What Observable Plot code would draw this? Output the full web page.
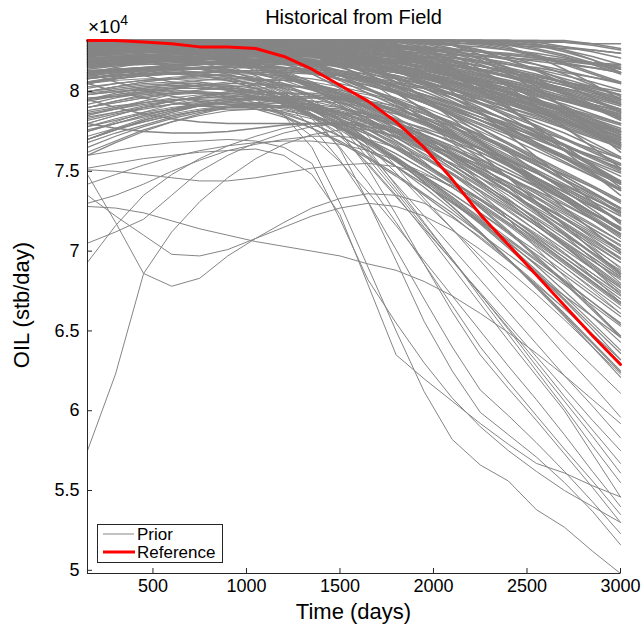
<!DOCTYPE html>
<html><head><meta charset="utf-8">
<script src="https://cdn.jsdelivr.net/npm/d3@7"></script>
<script src="https://cdn.jsdelivr.net/npm/@observablehq/plot@0.6"></script>
<style>
body{margin:0;background:#fff;font-family:"Liberation Sans",Arial,Helvetica,sans-serif;}
#wrap{position:relative;width:643px;height:632px;overflow:hidden;}
#wrap svg{position:absolute;left:0;top:0;}
.t{position:absolute;white-space:nowrap;color:#000;line-height:1;}
</style></head><body>
<div id="wrap"></div>
<script>
// time steps (days)
const time = [150,300,450,600,750,900,1050,1200,1350,1500,1650,1800,1950,2100,2250,2400,2550,2700,2850,3000];
// values in hundreds of stb/day
const reference = [832,832,831,830,828,828,827,822,814,804,794,781,765,745,723,704,685,666,647,629];

const priorPlateau = [
[832,832,832,832,832,832,832,832,832,832,832,832,832,832,832,832,831,831,830,830],
[832,832,832,832,832,832,832,832,832,832,832,832,832,832,831,830,829,828,826,824],
[832,832,832,832,832,832,832,832,832,832,832,831,830,829,828,826,824,821,818,815],
[832,832,832,832,832,832,832,832,832,831,830,829,827,825,823,820,817,813,809,805],
[832,832,832,832,832,832,832,831,830,829,827,825,822,819,816,812,808,804,799,794],
[832,832,832,832,832,831,830,829,827,825,822,819,816,812,808,804,799,794,789,784],
[832,832,832,832,831,830,828,826,823,820,817,813,809,805,800,795,790,784,778,772],
[832,832,832,832,832,832,832,832,831,829,826,822,817,812,806,800,794,787,780,773],
[832,832,832,832,832,832,832,832,832,832,831,829,826,822,817,811,805,798,790,782],
[832,832,832,832,832,832,832,832,832,832,832,832,831,829,826,822,817,811,804,797],
[832,832,832,832,832,832,832,832,832,832,832,832,832,832,832,831,829,826,822,817],
[832,832,832,832,832,832,832,832,832,832,832,832,832,831,829,826,822,817,811,805],
[832,832,832,832,832,832,832,832,832,831,829,826,822,817,811,805,798,791,783,775],
[832,832,832,832,832,832,831,829,826,822,818,813,807,801,795,788,781,774,766,758],
[832,832,832,832,832,831,829,826,822,817,812,806,800,793,786,779,771,763,755,747],
[832,832,832,831,829,826,823,819,815,810,805,799,793,787,780,773,766,758,750,742],
[832,832,832,832,832,832,832,832,832,831,828,824,818,811,803,795,786,777,768,759],
[832,832,832,832,832,832,832,832,830,826,820,813,805,796,787,778,768,758,748,738],
[832,832,832,832,832,832,832,832,832,832,832,830,826,820,813,805,796,786,776,766],
[832,832,832,832,832,832,832,832,832,832,832,832,832,830,826,820,813,805,796,787],
[832,832,832,832,832,832,831,828,823,816,808,799,789,779,768,757,746,735,724,713],
[832,832,832,832,832,832,832,832,832,832,830,826,819,810,800,789,778,766,754,742],
[832,832,832,832,832,831,828,823,817,810,802,793,784,774,764,754,743,732,721,710],
[832,832,832,832,832,832,832,832,832,832,832,832,831,827,820,811,801,790,779,767],
[832,832,832,832,832,832,832,832,832,832,832,832,832,832,831,828,822,814,805,795],
[832,832,832,832,832,832,832,832,832,832,831,827,820,811,801,790,778,766,753,740],
[832,832,832,832,832,832,832,832,829,823,815,806,796,785,774,762,750,738,726,714],
[832,832,832,832,832,832,832,832,832,832,832,832,829,823,814,803,791,778,765,752],
[832,832,832,832,832,832,832,832,832,832,832,832,832,832,832,832,830,826,820,812],
[832,832,832,832,832,832,832,832,832,832,832,832,832,832,832,832,832,832,830,827],
[832,832,832,832,832,832,832,832,831,826,818,808,796,783,769,755,741,727,713,699],
[832,832,832,832,832,832,832,832,832,832,829,822,812,800,787,773,759,745,731,717],
[832,832,832,832,832,832,832,831,827,820,811,800,788,775,761,746,731,716,701,686],
[832,832,832,832,832,832,832,832,832,832,832,830,824,815,804,791,777,763,749,735],
[832,832,832,832,832,832,832,832,832,832,832,832,832,829,823,814,803,790,776,762],
[832,832,832,832,832,832,832,832,832,832,832,832,832,832,832,831,829,825,820,814],
[832,832,832,832,832,832,832,832,832,832,832,832,832,832,832,832,832,831,829,826],
[832,832,832,832,832,832,832,832,832,832,832,832,832,832,831,829,826,822,817,811],
[832,832,832,832,832,832,832,832,832,832,832,832,831,829,825,820,814,807,800,792],
[832,832,832,832,832,832,832,832,832,832,831,829,825,819,812,804,795,786,776,766],
[832,832,832,832,832,832,832,832,831,828,823,817,810,802,793,784,774,764,754,744],
[832,832,832,832,832,832,831,828,824,818,811,803,795,786,777,767,757,747,737,727],
[832,832,832,832,831,829,825,820,814,807,799,791,782,773,764,754,744,734,724,714],
[832,832,832,832,832,832,832,832,832,832,832,831,828,824,819,813,806,799,791,783],
[832,832,832,832,832,832,832,832,832,832,832,832,832,832,830,827,823,818,812,806],
[832,832,832,832,832,832,832,832,832,832,832,832,832,832,832,832,831,828,825,821],
[832,832,832,832,832,832,832,832,832,831,829,825,820,814,807,799,791,782,773,764],
[832,832,832,832,832,832,832,832,832,832,832,832,830,826,821,815,808,800,792,783],
[832,832,832,832,832,832,832,831,828,824,819,813,806,798,790,781,772,763,753,743],
[832,832,832,832,832,832,832,832,832,832,832,832,832,832,832,830,827,823,818,812]
];

const priorUpper = [
[831,831,830,830,829,829,828,828,827,827,826,825,824,823,822,821,820,819,818,817],
[829,829,829,828,828,827,826,825,823,821,819,816,813,810,806,802,798,794,790,786],
[827,828,828,828,828,827,826,824,822,819,816,812,808,803,798,793,787,781,775,769],
[825,826,826,826,825,824,822,819,816,812,808,803,798,792,786,780,773,766,759,752],
[823,824,825,825,825,825,824,823,822,820,818,815,812,808,804,799,794,789,783,777],
[821,822,822,822,821,820,818,815,812,808,804,799,794,788,782,776,770,763,756,749],
[819,820,821,822,822,822,822,821,820,818,816,813,810,806,802,797,792,787,781,775],
[817,818,819,819,819,818,816,814,811,808,804,800,795,790,784,778,772,766,760,754],
[814,816,818,819,820,820,820,819,818,816,813,810,806,802,797,792,786,780,774,768],
[811,813,815,816,817,817,816,815,813,810,807,803,798,793,788,782,776,770,764,758],
[830,830,830,830,830,830,830,830,829,829,828,827,826,825,823,821,819,817,815,812],
[828,828,828,828,828,828,828,828,828,827,826,824,822,819,816,812,808,804,800,795],
[826,826,827,827,827,827,827,827,826,825,823,821,818,815,811,807,803,799,794,789],
[824,825,825,826,826,826,826,826,825,824,822,820,817,814,810,806,802,797,792,787],
[822,823,824,825,825,826,826,826,826,825,824,822,820,817,814,810,806,802,797,792],
[831,831,831,831,831,830,830,829,828,826,824,821,818,814,810,806,801,796,791,786],
[829,830,830,830,830,830,830,830,830,830,830,829,828,827,825,823,821,818,815,812],
[827,827,827,827,827,827,826,825,823,820,817,813,809,804,799,794,789,783,777,771],
[825,826,827,828,828,828,828,828,827,826,824,822,819,816,813,809,805,801,796,791],
[820,821,822,823,824,825,825,825,825,825,824,823,821,819,816,813,810,806,802,798],
[818,819,820,821,822,823,824,824,824,823,821,818,815,811,807,802,797,792,786,780],
[816,817,818,819,820,821,822,822,822,822,821,820,818,816,813,810,806,802,798,793],
[813,814,815,816,817,818,818,818,818,817,816,814,811,808,804,800,795,790,785,780],
[810,812,814,816,818,819,820,821,821,821,820,818,816,813,809,805,800,795,790,784],
[808,810,812,814,815,816,817,817,817,816,814,812,809,805,801,796,791,786,780,774],
[831,831,831,831,831,831,831,831,831,831,830,829,827,824,821,817,813,808,803,798],
[830,830,830,830,830,830,829,828,826,823,820,816,811,806,800,794,788,781,774,767],
[828,829,829,829,829,829,829,829,828,827,825,823,820,817,813,809,804,799,794,788],
[826,827,828,828,828,828,827,826,824,821,818,814,810,805,800,794,788,782,775,768],
[823,824,825,826,826,826,826,825,824,822,820,817,813,809,804,799,793,787,781,775],
[831,831,831,831,831,831,831,831,831,831,831,831,831,830,830,829,828,827,826,824],
[829,829,829,829,829,829,829,829,829,829,829,828,827,826,825,823,821,819,817,814],
[827,827,828,828,828,828,828,828,828,828,828,828,827,826,825,824,822,820,818,816],
[824,824,825,825,825,825,825,825,825,825,824,823,822,821,819,817,815,812,809,806],
[821,821,822,822,822,822,822,822,822,821,820,819,818,816,814,812,809,806,803,800],
[819,819,820,820,820,820,820,820,819,818,817,815,813,810,807,804,800,796,792,788],
[816,817,817,818,818,818,818,818,817,816,814,812,809,806,802,798,794,789,784,779],
[812,813,814,815,815,815,815,815,814,813,811,808,805,801,797,792,787,782,776,770],
[809,810,811,812,812,812,812,812,811,810,808,805,802,798,793,788,783,777,771,765],
[806,808,810,811,812,813,813,813,812,811,809,806,803,799,795,790,785,779,773,767]
];

const priorShoulder = [
[828,829,830,830,830,830,829,828,826,823,820,816,812,807,802,796,790,784,778,771],
[825,826,827,828,828,828,827,825,822,818,813,808,802,796,789,782,775,767,759,751],
[822,824,826,827,828,828,828,827,826,824,821,818,814,810,805,800,794,788,782,776],
[820,822,823,824,824,823,822,820,817,813,808,802,796,789,782,774,766,758,750,742],
[818,820,822,823,824,824,824,823,822,820,818,815,811,807,802,797,791,785,779,773],
[815,817,819,820,821,821,820,818,815,811,806,800,793,786,779,771,763,755,747,739],
[812,815,818,820,822,823,823,822,820,817,813,808,802,796,789,782,774,766,758,750],
[810,812,813,814,814,813,811,808,804,799,793,787,780,773,765,757,749,741,733,725],
[808,811,814,816,818,819,820,820,819,817,814,810,805,799,793,786,779,771,763,755],
[805,808,811,813,815,816,816,815,813,810,806,801,795,789,782,775,767,759,751,743],
[826,827,828,828,828,827,825,822,818,813,807,800,793,785,777,768,759,750,741,732],
[830,831,831,831,831,830,829,827,824,820,815,809,802,794,786,777,768,759,749,739],
[823,825,827,828,829,829,829,829,828,827,825,822,818,813,807,801,794,787,779,771],
[816,818,820,822,823,824,825,825,825,824,822,819,815,810,804,797,790,782,774,766],
[813,814,815,815,815,814,812,809,805,800,794,787,780,772,764,755,746,737,728,719],
[828,829,829,829,828,826,823,819,814,808,801,794,786,778,769,760,751,742,733,724],
[819,821,823,824,825,825,824,822,819,815,810,804,797,790,782,774,765,756,747,738],
[806,809,812,815,817,818,819,819,818,816,813,809,804,798,792,785,778,770,762,754],
[811,813,815,817,818,819,819,818,816,813,809,804,798,791,784,776,768,760,752,744],
[824,826,828,829,830,830,830,830,830,829,828,826,823,820,816,812,807,802,797,792],
[817,819,821,823,825,826,827,828,828,828,827,826,824,821,818,814,810,805,800,795],
[821,822,823,823,823,822,820,817,813,808,802,795,788,780,772,763,754,745,736,727],
[809,810,811,811,811,810,808,805,801,796,790,783,776,768,760,751,742,733,724,715],
[827,828,829,830,830,830,830,829,828,826,823,819,815,810,805,799,793,787,781,775],
[831,831,831,831,830,829,828,827,825,823,821,818,815,812,808,804,800,795,790,785],
[829,830,830,830,830,830,830,830,829,828,826,824,821,818,814,810,805,800,795,789],
[826,828,829,830,830,830,830,830,830,830,829,828,826,824,821,818,814,810,806,801],
[830,831,831,831,831,831,831,831,831,830,829,827,825,822,819,815,811,806,801,796],
[824,825,826,826,826,825,824,822,820,817,814,810,806,801,796,790,784,778,772,766],
[818,819,820,821,821,821,821,820,819,817,815,812,808,804,799,794,788,782,776,770],
[805,800,796,793,791,790,790,790,789,787,784,780,775,769,762,754,746,737,728,719],
[812,806,801,797,794,792,791,791,790,789,786,782,777,771,764,757,749,740,731,722],
[795,790,786,783,781,780,780,780,780,779,776,772,767,761,754,746,738,729,720,711],
[780,777,775,774,774,775,777,779,780,780,778,775,770,764,757,749,741,732,723,714],
[820,815,810,806,803,801,800,799,798,796,793,789,784,778,771,764,756,748,740,731]
];

const priorRising = [
[800,803,806,808,810,811,811,810,808,805,801,796,790,783,775,767,758,749,740,730],
[795,799,802,805,807,808,808,807,805,801,796,790,783,775,767,758,749,739,729,719],
[790,794,798,801,804,806,807,807,806,803,799,794,788,781,773,764,755,745,735,724],
[785,790,794,798,801,803,804,804,802,799,794,788,781,773,764,755,745,735,724,713],
[780,785,790,794,797,800,802,803,803,801,798,793,787,780,772,763,754,744,734,723],
[775,780,785,789,793,796,798,799,799,797,794,789,783,776,768,759,750,740,730,719],
[770,776,782,787,791,794,796,797,797,795,791,786,779,771,762,753,743,733,722,711],
[765,772,778,783,787,790,792,793,792,790,786,780,773,765,756,746,736,725,714,703],
[798,800,801,802,802,801,799,796,792,787,781,774,766,758,749,740,730,720,710,700],
[788,791,793,795,796,796,795,793,790,786,781,775,768,760,752,743,734,724,714,704],
[778,782,786,789,791,792,792,791,789,785,780,774,767,759,750,741,731,721,711,701],
[760,768,775,781,786,790,793,795,796,796,794,791,786,780,773,765,756,747,737,727],
[782,786,789,792,794,795,795,794,791,787,782,776,769,761,752,743,733,723,712,701],
[792,796,799,802,804,805,805,804,802,798,793,787,780,772,764,755,745,735,724,713],
[803,805,807,808,808,807,805,802,798,793,787,780,772,764,755,746,736,726,716,706],
[772,777,781,785,788,790,791,791,790,788,784,779,773,766,758,749,740,730,720,709],
[768,774,779,784,788,791,793,794,794,793,790,786,781,774,766,758,749,739,729,718],
[786,789,792,794,796,797,797,796,794,790,785,779,772,764,756,747,737,727,717,706],
[796,797,798,799,799,798,796,793,789,784,778,771,763,755,746,737,727,717,706,695],
[776,780,784,788,791,793,795,796,796,795,792,788,783,777,770,762,754,745,736,726]
];

const priorEarlyDecline = [
[815,818,820,821,821,820,817,812,806,799,791,782,772,762,751,740,729,717,705,693],
[808,811,813,814,814,812,809,804,798,791,783,774,764,754,743,732,720,708,696,684],
[800,803,805,806,806,804,800,795,789,782,774,765,755,744,733,722,710,698,686,674],
[790,794,797,799,800,799,797,793,788,781,773,764,754,743,732,720,708,696,684,672],
[783,787,791,794,796,797,796,793,789,783,776,768,758,748,737,725,713,701,689,677],
[825,826,826,825,823,820,815,809,802,794,785,775,765,754,743,732,720,708,696,684],
[818,820,822,822,821,819,815,810,803,795,786,776,765,754,742,730,718,705,692,679],
[805,808,810,811,810,808,804,798,791,783,774,764,753,742,730,718,706,693,680,667],
[795,798,800,801,800,797,793,787,780,772,763,753,742,731,719,707,694,681,668,655],
[778,783,787,790,792,793,792,789,784,778,770,761,751,740,729,717,705,692,679,666],
[770,776,781,785,788,789,789,787,783,777,770,761,751,740,728,716,703,690,677,664],
[812,814,815,815,814,811,806,800,793,785,776,766,755,744,732,720,707,694,681,668],
[799,801,803,804,803,801,797,792,785,777,768,758,747,736,724,711,698,685,672,659],
[787,790,793,795,795,794,791,786,780,772,763,753,742,730,718,705,692,679,666,653],
[830,830,830,830,829,827,823,818,811,803,794,784,773,761,749,737,724,711,698,685],
[822,824,825,825,824,821,817,811,804,796,787,777,766,754,742,729,716,703,690,677],
[762,769,776,781,785,788,789,788,785,780,773,765,755,744,732,720,707,694,681,668],
[784,787,790,792,793,792,789,784,777,769,759,748,736,724,711,698,685,672,659,646],
[832,832,832,832,831,829,825,819,811,802,792,781,769,757,744,731,717,703,689,675],
[832,832,832,832,832,832,832,830,825,817,807,795,782,768,754,740,725,710,695,680],
[800,802,804,805,805,803,799,793,786,777,767,756,744,731,717,702,686,669,651,632],
[785,789,793,796,798,798,796,792,786,778,768,757,745,732,718,703,687,670,653,636],
[815,816,817,817,816,813,808,801,792,782,770,757,743,728,712,695,677,659,640,621],
[775,780,785,789,792,793,793,790,785,778,769,758,746,733,719,704,688,672,655,638],
[808,810,811,811,810,807,802,795,786,776,765,753,740,726,711,695,678,661,643,625],
[822,823,823,822,820,816,810,802,793,782,770,757,743,728,712,695,678,660,642,624],
[832,832,832,831,829,825,819,811,802,792,781,769,756,742,727,712,696,680,663,646],
[795,797,799,800,799,796,791,785,777,768,758,747,735,722,708,694,679,664,648,632],
[770,777,783,788,792,795,796,795,791,785,777,767,755,742,728,713,697,681,664,647],
[812,813,814,814,812,809,804,797,789,780,770,759,747,734,720,706,691,675,659,643],
[826,826,826,825,823,820,816,811,805,798,790,781,772,762,752,742,731,720,709,698],
[818,819,820,820,819,817,814,809,803,796,788,779,770,760,750,740,729,718,707,696],
[810,812,814,815,815,814,811,807,801,794,786,777,768,758,748,737,726,715,704,693],
[802,805,807,809,810,810,808,804,798,791,783,774,764,754,743,732,721,710,699,688],
[794,797,800,802,804,804,802,798,793,786,778,769,759,749,738,727,716,705,694,683],
[828,828,828,827,826,823,819,813,806,798,789,779,768,757,746,735,723,711,699,687],
[820,821,822,822,821,819,815,810,804,797,789,780,770,760,749,738,726,714,702,690],
[832,832,832,832,832,832,831,828,823,816,808,799,789,778,767,756,744,732,720,708],
[832,832,832,832,832,831,829,825,819,811,802,792,781,770,758,746,734,721,708,695],
[805,808,810,811,811,810,807,803,797,790,782,773,763,752,741,730,718,706,694,682],
[790,793,796,799,801,802,801,798,793,787,780,771,761,751,740,728,716,704,691,678],
[815,817,818,819,819,818,815,811,805,798,790,781,771,760,749,737,725,712,699,686],
[798,800,802,803,803,801,797,792,785,777,768,758,747,736,724,712,700,687,674,661],
[826,827,827,826,824,821,816,810,802,793,783,772,760,748,735,722,709,696,683,670],
[808,810,811,811,810,807,802,796,788,779,769,758,746,734,721,708,695,682,668,654]
];

const priorSteep = [
[770,776,782,787,791,794,795,785,765,730,690,650,612,582,566,556,538,527,512,498],
[800,803,806,808,809,809,807,800,786,764,731,694,656,625,599,585,571,555,537,516],
[810,812,813,813,812,809,803,793,778,757,731,701,670,640,613,597,580,562,543,523],
[775,781,787,792,796,799,800,798,790,775,752,723,692,662,635,614,594,573,552,530],
[820,821,821,820,818,814,807,797,783,765,743,718,692,666,640,618,597,576,556,535],
[805,807,808,808,806,802,795,785,772,756,737,716,694,672,650,628,607,585,562,540],
[795,798,801,803,804,803,800,794,785,772,755,735,713,690,667,644,622,600,573,546],
[780,785,790,794,797,799,799,796,789,778,764,741,718,695,671,648,625,602,578,555],
[825,826,826,825,823,819,813,805,795,783,761,739,717,695,673,651,628,606,584,561],
[812,814,815,815,814,811,806,799,790,779,758,737,715,694,673,652,631,609,588,567],
[798,801,803,804,804,802,798,792,784,774,754,734,714,694,674,654,634,614,594,575],
[790,793,796,798,799,799,797,794,789,782,762,742,722,702,682,662,642,622,603,583],
[830,830,830,829,827,824,819,812,803,792,772,753,733,714,694,674,655,635,616,596],
[770,776,782,786,789,791,792,791,788,783,766,749,731,714,697,680,663,645,628,611],
[752,755,758,760,762,763,764,760,748,723,679,635,620,606,592,579,567,561,553,546],
[760,763,766,768,769,770,769,765,755,720,682,655,630,608,590,575,562,550,540,530]
];

const priorOutliers = [
[575,623,686,712,731,746,758,767,773,776,776,772,764,752,737,720,702,684,665,646],
[693,716,735,748,758,766,772,777,780,781,780,777,771,763,753,742,730,717,703,689],
[705,712,720,735,750,760,768,774,778,780,779,775,768,758,746,733,719,704,689,673],
[730,735,742,750,757,763,767,770,772,772,770,765,758,749,738,726,713,699,684,668],
[742,748,754,759,763,766,768,769,769,767,763,757,749,740,729,717,704,690,676,661],
[751,750,748,746,744,744,746,749,752,754,755,753,748,741,732,722,711,699,686,673],
[748,718,686,678,683,697,708,718,727,733,736,735,730,721,709,695,680,664,647,630],
[735,722,710,698,697,701,708,715,722,727,730,728,722,713,701,688,673,657,640,623],
[728,727,724,719,714,710,706,703,700,697,692,688,681,672,661,649,636,622,607,592]
];

const xTicks = [500,1000,1500,2000,2500,3000];
const yTicks = [5,5.5,6,6.5,7,7.5,8];
const titleText = "Historical from Field";
const xLabel = "Time (days)";
const yLabel = "OIL (stb/day)";
const exponentText = ["×10", "4"];
const legendLabels = ["Prior", "Reference"];

// dense ensemble groups are drawn with a slightly wider pen so the band reads solid, as in the reference
const groups = [
  {lines: priorPlateau, width: 1.6},
  {lines: priorUpper, width: 1.6},
  {lines: priorShoulder, width: 1.5},
  {lines: priorRising, width: 1.2},
  {lines: priorEarlyDecline, width: 1.15},
  {lines: priorSteep, width: 1},
  {lines: priorOutliers, width: 1}
];
let uid = 0;
const groupRows = groups.map(g => g.lines.flatMap(s => { const id = uid++; return s.map((v, j) => ({id, t: time[j], oil: v / 100})); }));
const refRows = reference.map((v, j) => ({t: time[j], oil: v / 100}));
const allOil = groupRows.flat().map(d => d.oil).concat(refRows.map(d => d.oil));
const yMin = d3.min(allOil), yMax = d3.max(allOil);

const axisColor = "#262626";
const gray = "#858585";
const chart = Plot.plot({
  width: 643, height: 632,
  marginLeft: 87, marginRight: 23, marginTop: 40, marginBottom: 59,
  style: {fontSize: "18px", fontFamily: "'Liberation Sans', Arial, Helvetica, sans-serif", color: "#000", background: "transparent", overflow: "visible"},
  x: {domain: [time[0], time[time.length - 1]]},
  y: {domain: [yMin, yMax]},
  marks: [
    ...groups.map((g, i) => Plot.line(groupRows[i], {x: "t", y: "oil", z: "id", stroke: gray, strokeWidth: g.width})),
    Plot.line(refRows, {x: "t", y: "oil", stroke: "#ff0000", strokeWidth: 3}),
    Plot.ruleX([time[0]], {stroke: axisColor, strokeWidth: 1}),
    Plot.ruleY([yMin], {stroke: axisColor, strokeWidth: 1}),
    Plot.axisX(xTicks, {tickSize: -5, tickPadding: 11, label: null, stroke: axisColor, fill: "#000", tickFormat: d => String(d)}),
    Plot.axisY(yTicks, {tickSize: -5, tickPadding: 13, label: null, stroke: axisColor, fill: "#000", tickFormat: d => String(d)})
  ]
});

const wrap = document.getElementById("wrap");
wrap.appendChild(chart);

function addText(txt, css) {
  const d = document.createElement("div");
  d.className = "t";
  d.textContent = txt;
  Object.assign(d.style, css);
  wrap.appendChild(d);
  return d;
}
addText(titleText, {left: "353.5px", top: "17px", fontSize: "20px", transform: "translate(-50%,-50%)"});
addText(xLabel, {left: "353.5px", top: "612px", fontSize: "22px", transform: "translate(-50%,-50%)"});
addText(yLabel, {left: "22px", top: "305px", fontSize: "22px", transform: "translate(-50%,-50%) rotate(-90deg)"});
const ex = addText(exponentText[0], {left: "88px", top: "13px", fontSize: "19px"});
const sup = document.createElement("span");
sup.textContent = exponentText[1];
sup.style.fontSize = "14px";
sup.style.verticalAlign = "8px";
ex.appendChild(sup);

// legend
const lg = document.createElement("div");
Object.assign(lg.style, {position: "absolute", left: "97px", top: "524px", width: "126px", height: "39px", boxSizing: "border-box", border: "1px solid " + axisColor, background: "#fff"});
lg.innerHTML = `<svg width="124" height="37" style="position:absolute;left:0;top:0">
<line x1="5" x2="36" y1="9" y2="9" stroke="${gray}" stroke-width="1"/>
<line x1="5" x2="37" y1="27" y2="27" stroke="#ff0000" stroke-width="3"/></svg>`;
wrap.appendChild(lg);
addText(legendLabels[0], {left: "137px", top: "533.5px", fontSize: "17px", transform: "translateY(-50%)"});
addText(legendLabels[1], {left: "137px", top: "551.5px", fontSize: "17px", transform: "translateY(-50%)"});
</script>
</body></html>
